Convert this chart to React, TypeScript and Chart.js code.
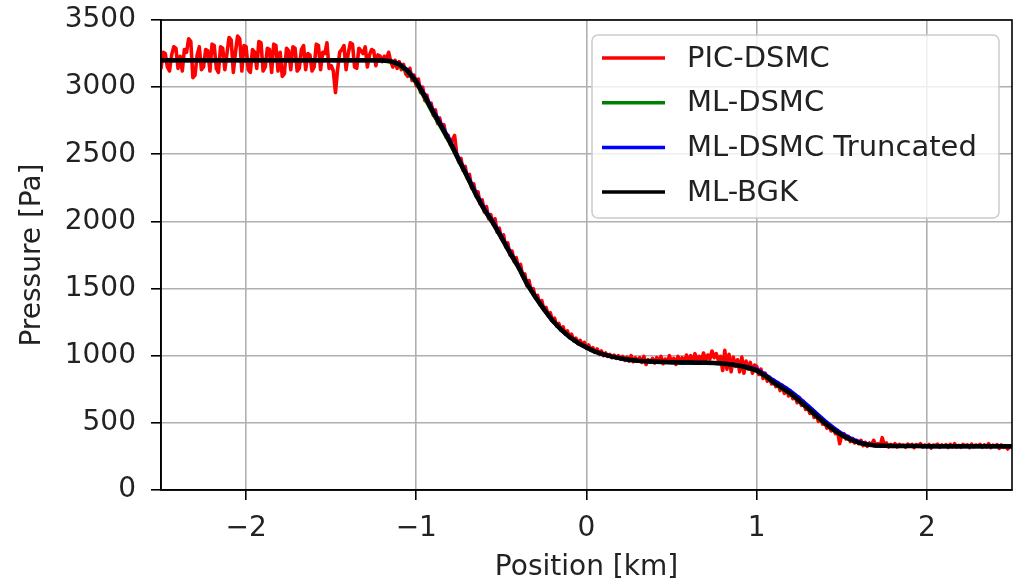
import React, { useEffect, useRef } from 'react';
import { Chart, registerables } from 'chart.js';

Chart.register(...registerables);

const FONT = 'DejaVu Sans';
const TEXT_COLOR = '#222222';

const X_TICKS = [-2, -1, 0, 1, 2];
const X_MIN = -2.5;
const X_MAX = 2.5;
const Y_MIN = 0;
const Y_MAX = 3500;
const Y_STEP = 500;

const SERIES_NAMES = ['PIC-DSMC', 'ML-DSMC', 'ML-DSMC Truncated', 'ML-BGK'];
const SERIES_COLORS = ['#ff0000', '#008000', '#0000ff', '#000000'];

// PIC-DSMC samples, spacing 0.0125 km from -2.5 to 2.5
const PIC_STEP = 0.0125;
const PIC_DSMC = [
  // -2.5 .. -1.2
  3140, 3260, 3250, 3150, 3120, 3240, 3300, 3290, 3140, 3230,
  3120, 3280, 3260, 3360, 3340, 3070, 3090, 3240, 3300, 3130,
  3150, 3280, 3270, 3120, 3320, 3310, 3140, 3110, 3300, 3290,
  3130, 3250, 3370, 3350, 3110, 3260, 3380, 3360, 3120, 3310,
  3300, 3130, 3110, 3280, 3260, 3140, 3340, 3330, 3120, 3150,
  3290, 3280, 3110, 3320, 3310, 3120, 3260, 3080, 3100, 3290,
  3270, 3130, 3300, 3290, 3120, 3140, 3280, 3310, 3130, 3250,
  3240, 3120, 3150, 3320, 3310, 3130, 3260, 3250, 3330, 3140,
  3160, 3120, 2960, 3130, 3260, 3280, 3310, 3130, 3250, 3330,
  3320, 3150, 3140, 3290, 3270, 3250, 3300, 3150, 3240, 3280,
  3270, 3160, 3240, 3230, 3190,
  // -1.1875 .. -1.1125
  3230, 3210, 3260, 3190, 3150, 3200, 3140,
  // -1.1 .. 2.4875, rows of 0.1 km
  3190, 3130, 3170, 3100, 3080, 3140, 3050, 3090,
  3010, 3060, 2960, 3000, 2900, 2940, 2860, 2880,
  2790, 2830, 2730, 2770, 2690, 2720, 2630, 2640,
  2570, 2610, 2640, 2500, 2440, 2470, 2380, 2410,
  2320, 2350, 2250, 2280, 2190, 2220, 2130, 2160,
  2070, 2110, 2020, 2050, 1980, 2020, 1920, 1950,
  1870, 1900, 1810, 1840, 1750, 1780, 1700, 1730,
  1650, 1680, 1590, 1610, 1520, 1560, 1480, 1500,
  1430, 1450, 1380, 1410, 1340, 1360, 1300, 1320,
  1260, 1280, 1220, 1240, 1190, 1215, 1160, 1185,
  1135, 1160, 1110, 1130, 1090, 1115, 1075, 1100,
  1055, 1080, 1040, 1060, 1025, 1050, 1010, 1035,
  1000, 1020, 995, 1010, 985, 1005, 980, 1000,
  975, 995, 965, 990, 960, 1000, 955, 985,
  960, 985, 950, 995, 935, 970, 955, 980,
  945, 985, 960, 995, 940, 975, 955, 1000,
  950, 980, 935, 995, 955, 985, 945, 1005,
  960, 1000, 950, 1015, 965, 995, 955, 1020,
  965, 1005, 975, 1035, 985, 1015, 965, 995,
  890, 1040, 900, 1010, 880, 990, 920, 970,
  880, 990, 870, 960, 900, 950, 870, 930,
  920, 860, 900, 830, 870, 810, 840, 790,
  820, 770, 800, 740, 780, 720, 760, 700,
  730, 680, 710, 650, 690, 630, 660, 600,
  620, 570, 600, 540, 570, 510, 540, 490,
  505, 460, 480, 440, 465, 420, 440, 345,
  410, 420, 380, 400, 360, 385, 350, 370,
  345, 370, 330, 355, 325, 350, 335, 370,
  330, 345, 325, 390, 335, 350, 320, 340,
  325, 345, 320, 340, 330, 335, 318, 342,
  328, 340, 315, 338, 325, 345, 320, 335,
  322, 340, 312, 335, 328, 342, 318, 336,
  325, 338, 316, 340, 322, 345, 320, 333,
  318, 340, 326, 336, 315, 342, 322, 335,
  328, 340, 318, 336, 320, 345, 316, 334,
  325, 338, 310, 335, 318, 330, 305, 328,
  // 2.5
  320,
];

// Model curves, spacing 0.05 km from -2.5 to 2.5
const MODEL_STEP = 0.05;
const ML_BGK = [
  3200, 3200, 3200, 3200, 3200, 3200, 3200, 3200, 3200, 3200,
  3200, 3200, 3200, 3200, 3200, 3200, 3200, 3200, 3200, 3200,
  3200, 3200, 3200, 3200, 3200, 3200,
  3199, 3192, 3170, 3120, 3040, 2930, 2810, 2700, 2585, 2457,
  2330, 2200, 2085, 1990, 1880, 1765, 1660, 1535, 1435, 1345,
  1262, 1195, 1140, 1095, 1062, 1030, 1010, 993, 980, 970,
  962, 958, 955, 953, 952, 950, 949, 948, 947, 945,
  942, 935, 925, 910, 890, 850, 800, 760, 718, 665,
  610, 553, 498, 450, 408, 376, 352, 338, 331, 329,
  328, 327, 327, 327, 326, 326, 326, 326, 325, 325,
  325, 325, 325, 325, 325,
];
const ML_DSMC = [
  3200, 3200, 3200, 3200, 3200, 3200, 3200, 3200, 3200, 3200,
  3200, 3200, 3200, 3200, 3200, 3200, 3200, 3200, 3200, 3200,
  3200, 3200, 3200, 3200, 3200, 3200,
  3199, 3190, 3165, 3112, 3030, 2918, 2800, 2690, 2578, 2452,
  2330, 2200, 2085, 1990, 1880, 1765, 1660, 1535, 1435, 1345,
  1262, 1195, 1140, 1095, 1062, 1030, 1010, 993, 980, 970,
  962, 958, 955, 953, 952, 950, 949, 948, 947, 945,
  942, 934, 924, 908, 887, 846, 797, 756, 714, 662,
  607, 550, 496, 449, 407, 375, 352, 338, 331, 329,
  328, 327, 327, 327, 326, 326, 326, 326, 325, 325,
  325, 325, 325, 325, 325,
];
const ML_DSMC_TRUNCATED = [
  3200, 3200, 3200, 3200, 3200, 3200, 3200, 3200, 3200, 3200,
  3200, 3200, 3200, 3200, 3200, 3200, 3200, 3200, 3200, 3200,
  3200, 3200, 3200, 3200, 3200, 3200,
  3200, 3194, 3174, 3126, 3048, 2940, 2822, 2712, 2595, 2466,
  2340, 2210, 2094, 1998, 1888, 1772, 1666, 1540, 1440, 1348,
  1262, 1195, 1140, 1095, 1062, 1030, 1010, 993, 980, 970,
  962, 958, 955, 953, 952, 950, 949, 948, 947, 945,
  943, 937, 928, 915, 897, 860, 815, 776, 735, 684,
  630, 572, 515, 465, 420, 385, 358, 341, 332, 329,
  328, 327, 327, 327, 326, 326, 326, 326, 325, 325,
  325, 325, 325, 325, 325,
];

const toPoints = (values: number[], step: number) =>
  values.map((y, i) => ({ x: +(X_MIN + i * step).toFixed(5), y }));

const fmtTick = (v: number) => (v < 0 ? '\u2212' + Math.abs(v) : String(v));

const overlayPlugin = {
  id: 'overlayFrameLegend',
  afterDraw(chart: any) {
    const { ctx, chartArea: a } = chart;
    ctx.save();
    // axes frame (spines)
    ctx.strokeStyle = '#000';
    ctx.lineWidth = 1.6;
    ctx.strokeRect(a.left, a.top, a.right - a.left, a.bottom - a.top);

    // legend box (upper right, inside the axes)
    const fontSize = 29;
    ctx.font = `${fontSize}px "${FONT}"`;
    const maxW = Math.max(...SERIES_NAMES.map((n) => ctx.measureText(n).width));
    const boxW = Math.max(407, 95 + maxW + 14);
    const boxH = 183;
    const right = a.right - 13;
    const left = right - boxW;
    const top = a.top + 15;
    ctx.beginPath();
    if ((ctx as any).roundRect) (ctx as any).roundRect(left, top, boxW, boxH, 6);
    else ctx.rect(left, top, boxW, boxH);
    ctx.fillStyle = 'rgba(255,255,255,0.8)';
    ctx.fill();
    ctx.strokeStyle = '#cccccc';
    ctx.lineWidth = 1.5;
    ctx.stroke();

    SERIES_NAMES.forEach((name, k) => {
      const y = top + 23 + k * 44.7;
      ctx.beginPath();
      ctx.moveTo(left + 10, y);
      ctx.lineTo(left + 73, y);
      ctx.strokeStyle = SERIES_COLORS[k];
      ctx.lineWidth = 3.5;
      ctx.stroke();
      ctx.fillStyle = TEXT_COLOR;
      ctx.textBaseline = 'middle';
      ctx.textAlign = 'left';
      ctx.fillText(name, left + 95, y + 1);
    });
    ctx.restore();
  },
};

export default function App() {
  const ref = useRef<HTMLCanvasElement | null>(null);

  useEffect(() => {
    document.body.style.margin = '0';
    const canvas = ref.current;
    if (!canvas) return;
    const font = { family: FONT, size: 28 };
    const lineDs = (label: string, data: any[], color: string, width: number, order: number) => ({
      label,
      data,
      borderColor: color,
      backgroundColor: color,
      borderWidth: width,
      borderJoinStyle: 'round',
      borderCapStyle: 'round',
      pointRadius: 0,
      pointHoverRadius: 0,
      tension: 0,
      fill: false,
      order,
    });
    const chart = new Chart(canvas, {
      type: 'line',
      data: {
        datasets: [
          lineDs(SERIES_NAMES[0], toPoints(PIC_DSMC, PIC_STEP), SERIES_COLORS[0], 3.6, 3),
          lineDs(SERIES_NAMES[1], toPoints(ML_DSMC, MODEL_STEP), SERIES_COLORS[1], 4, 2),
          lineDs(SERIES_NAMES[2], toPoints(ML_DSMC_TRUNCATED, MODEL_STEP), SERIES_COLORS[2], 4, 1),
          lineDs(SERIES_NAMES[3], toPoints(ML_BGK, MODEL_STEP), SERIES_COLORS[3], 4.5, 0),
        ],
      },
      options: {
        responsive: false,
        animation: false,
        devicePixelRatio: 1,
        layout: { padding: { top: 20, right: 13, left: 0, bottom: 0 } },
        plugins: { legend: { display: false }, tooltip: { enabled: false } },
        scales: {
          x: {
            type: 'linear',
            min: X_MIN,
            max: X_MAX,
            afterBuildTicks: (s: any) => {
              s.ticks = X_TICKS.map((v) => ({ value: v }));
            },
            afterFit: (s: any) => {
              s.height = 92;
            },
            ticks: {
              font,
              color: TEXT_COLOR,
              padding: 12,
              maxRotation: 0,
              autoSkip: false,
              callback: (v: any) => fmtTick(Number(v)),
            },
            grid: { color: '#b0b0b0', lineWidth: 1.6, tickColor: '#000', tickLength: 10, tickWidth: 1.6 },
            border: { display: true, color: '#000', width: 1.6 },
            title: {
              display: true,
              text: 'Position [km]',
              font: { family: FONT, size: 28, lineHeight: 1.05 },
              color: TEXT_COLOR,
              padding: { top: 0, bottom: 0 },
            },
          },
          y: {
            type: 'linear',
            min: Y_MIN,
            max: Y_MAX,
            afterFit: (s: any) => {
              s.width = 161;
            },
            ticks: {
              stepSize: Y_STEP,
              font: { family: FONT, size: 28, lineHeight: 0.3 },
              color: TEXT_COLOR,
              padding: 15,
              callback: (v: any) => fmtTick(Number(v)),
            },
            grid: { color: '#b0b0b0', lineWidth: 1.6, tickColor: '#000', tickLength: 10, tickWidth: 1.6 },
            border: { display: true, color: '#000', width: 1.6 },
            title: { display: true, text: 'Pressure [Pa]', font, color: TEXT_COLOR, padding: { top: 16, bottom: 0 } },
          },
        },
      } as any,
      plugins: [overlayPlugin],
    });
    return () => chart.destroy();
  }, []);

  return (
    <div style={{ width: 1025, height: 582, background: '#fff' }}>
      <canvas ref={ref} width={1025} height={582} />
    </div>
  );
}
